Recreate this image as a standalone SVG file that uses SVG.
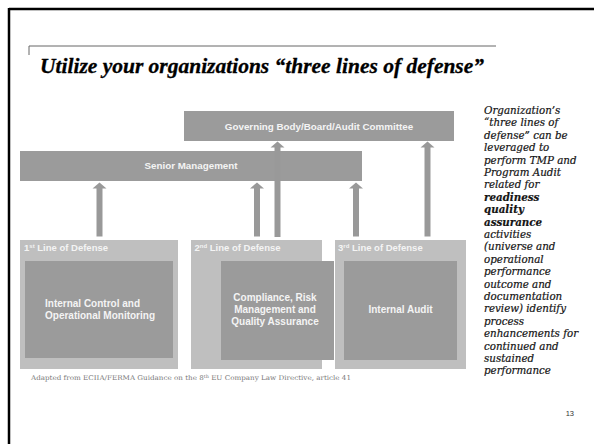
<svg xmlns="http://www.w3.org/2000/svg" width="594" height="444" viewBox="0 0 594 444">
<style>
.dark{fill:#9b9b9b}
.light{fill:#bfbfbf}
.arrow{fill:#999999}
.lbl{font-family:"Liberation Sans",Arial,sans-serif;font-weight:bold;fill:#f4f4f4}
.side{font-family:"DejaVu Serif",serif;font-style:italic;font-size:10.3px;fill:#141414;stroke:#141414;stroke-width:0.2}
.sideb{font-weight:bold}
</style>
<rect x="0" y="0" width="594" height="444" fill="#ffffff"/>
<g id="frame">
<line x1="9" y1="9" x2="594" y2="9" stroke="#000" stroke-width="2.5"/>
<line x1="9" y1="8" x2="9" y2="444" stroke="#000" stroke-width="2.5"/>
<polyline points="29,55 29,46 496,46" fill="none" stroke="#666" stroke-width="1"/>
</g>
<text id="title" x="40" y="72.5" font-family="Liberation Serif,Times New Roman,serif" font-weight="bold" font-style="italic" font-size="20.5" textLength="444" lengthAdjust="spacingAndGlyphs" fill="#000" stroke="#000" stroke-width="0.3">Utilize your organizations “three lines of defense”</text>
<g id="governing">
<rect class="dark" x="184" y="111" width="270" height="30"/>
<text class="lbl" x="319" y="129.5" font-size="9.8" text-anchor="middle">Governing Body/Board/Audit Committee</text>
</g>
<g id="senior">
<rect class="dark" x="20" y="151" width="342" height="30"/>
<text class="lbl" x="191" y="169" font-size="9.8" text-anchor="middle">Senior Management</text>
</g>
<g id="connectors">
<path class="arrow" d="M99.5,182.5 L106.5,188.5 L102.5,188.5 L102.5,236.5 L96.5,236.5 L96.5,188.5 L92.5,188.5 Z"/>
<path class="arrow" d="M257,182.5 L264,188.5 L260,188.5 L260,236.5 L254,236.5 L254,188.5 L250,188.5 Z"/>
<path class="arrow" d="M277.5,141.5 L284.5,147.5 L280.5,147.5 L280.5,237 L274.5,237 L274.5,147.5 L270.5,147.5 Z"/>
<path class="arrow" d="M356,182.5 L363,188.5 L359,188.5 L359,236.5 L353,236.5 L353,188.5 L349,188.5 Z"/>
<path class="arrow" d="M427.5,141.5 L434.5,147.5 L430.5,147.5 L430.5,236.5 L424.5,236.5 L424.5,147.5 L420.5,147.5 Z"/>
</g>
<g id="line1">
<rect class="light" x="20" y="240" width="158" height="129"/>
<text class="lbl" x="24" y="250.7" font-size="9.5">1<tspan font-size="6" baseline-shift="super">st</tspan> Line of Defense</text>
<rect class="dark" x="25" y="261" width="148" height="97"/>
<text class="lbl" x="45" y="306.7" font-size="10">Internal Control and</text>
<text class="lbl" x="45" y="318.5" font-size="10">Operational Monitoring</text>
</g>
<g id="line2">
<rect class="light" x="191" y="240" width="131" height="129"/>
<text class="lbl" x="194.5" y="250.7" font-size="9.5">2<tspan font-size="6" baseline-shift="super">nd</tspan> Line of Defense</text>
<rect class="dark" x="221" y="261" width="113" height="99"/>
<text class="lbl" x="275" y="300.8" font-size="10" text-anchor="middle">Compliance, Risk</text>
<text class="lbl" x="275" y="313" font-size="10" text-anchor="middle">Management and</text>
<text class="lbl" x="275" y="325" font-size="10" text-anchor="middle">Quality Assurance</text>
</g>
<g id="line3">
<rect class="light" x="335" y="240" width="131" height="129"/>
<text class="lbl" x="338" y="250.7" font-size="9.5">3<tspan font-size="6" baseline-shift="super">rd</tspan> Line of Defense</text>
<rect class="dark" x="344" y="261" width="113" height="99"/>
<text class="lbl" x="400.5" y="313.3" font-size="10" text-anchor="middle">Internal Audit</text>
</g>
<text id="source" x="31" y="379.7" font-family="DejaVu Serif,serif" font-size="6.6" fill="#7a7a7a" textLength="320" lengthAdjust="spacingAndGlyphs">Adapted from ECIIA/FERMA Guidance on the 8<tspan font-size="4.5" baseline-shift="super">th</tspan> EU Company Law Directive, article 41</text>
<g id="sidenote" class="side">
<text x="484" y="114">Organization’s</text>
<text x="484" y="126.4">“three lines of</text>
<text x="484" y="138.8">defense” can be</text>
<text x="484" y="151.2">leveraged to</text>
<text x="484" y="163.6">perform TMP and</text>
<text x="484" y="176">Program Audit</text>
<text x="484" y="188.4">related for</text>
<text x="484" y="200.8" class="sideb">readiness</text>
<text x="484" y="213.2" class="sideb">quality</text>
<text x="484" y="225.6" class="sideb">assurance</text>
<text x="484" y="238">activities</text>
<text x="484" y="250.4">(universe and</text>
<text x="484" y="262.8">operational</text>
<text x="484" y="275.2">performance</text>
<text x="484" y="287.6">outcome and</text>
<text x="484" y="300">documentation</text>
<text x="484" y="312.4">review) identify</text>
<text x="484" y="324.8">process</text>
<text x="484" y="337.2">enhancements for</text>
<text x="484" y="349.6">continued and</text>
<text x="484" y="362">sustained</text>
<text x="484" y="374.4">performance</text>
</g>
<text id="pagenum" x="574" y="416" font-family="Liberation Sans,Arial,sans-serif" font-size="7.5" fill="#333" text-anchor="end">13</text>
</svg>
